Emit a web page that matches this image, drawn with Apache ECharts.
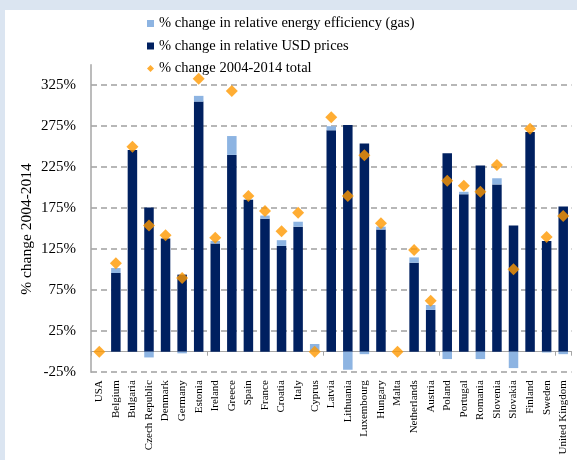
<!DOCTYPE html>
<html>
<head>
<meta charset="utf-8">
<script src="https://cdn.jsdelivr.net/npm/echarts@6/dist/echarts.min.js"></script>
<style>
html,body{margin:0;padding:0;background:#fff;}
#chart{width:577px;height:460px;}
</style>
</head>
<body>
<div id="chart"></div>
<script>
var categories = ['USA','Belgium','Bulgaria','Czech Republic','Denmark','Germany','Estonia','Ireland','Greece','Spain','France','Croatia','Italy','Cyprus','Latvia','Lithuania','Luxembourg','Hungary','Malta','Netherlands','Austria','Poland','Portugal','Romania','Slovenia','Slovakia','Finland','Sweden','United Kingdom'];
var usdPrices = [0, 96, 246, 176, 138, 94, 305, 132, 240, 185, 162, 129, 152.5, 0, 270, 276.5, 254, 149, 0, 108.5, 51, 242, 192, 227, 204, 154, 268, 135, 177];
var energyEff = [0, 6, 0, -7, 0, -2, 7, 3, 23, 1, 4, 7, 6, 9.4, 5, -22, -3, 3.5, 0, 6.5, 6, -9, 3, -9, 7.5, -20, 0, -1, -3];
var total = [0, 108, 250, 154, 142, 90, 333, 139, 318, 190, 171.5, 147, 169.5, 0, 286, 190, 239.5, 156.5, 0, 124, 62, 208.5, 202.5, 195, 227.7, 100.5, 272, 140, 165.5];
var yTicks = {min: -25, max: 350, interval: 50};

var FONT = 'Liberation Serif';
var chart = echarts.init(document.getElementById('chart'));
chart.setOption({
  animation: false,
  backgroundColor: '#fff',
  textStyle: {fontFamily: FONT, color: '#000'},
  graphic: [
    {type: 'rect', shape: {x: 0, y: 0, width: 577, height: 10}, style: {fill: '#dbe5f1'}, z: -1},
    {type: 'rect', shape: {x: 0, y: 0, width: 5, height: 460}, style: {fill: '#dbe5f1'}, z: -1},
    {type: 'text', x: 27, y: 229, rotation: Math.PI / 2,
     style: {text: '% change 2004-2014', fontFamily: FONT, fontSize: 15.5, fill: '#000', align: 'center', verticalAlign: 'middle'}}
  ],
  legend: {
    orient: 'vertical',
    left: 142,
    top: 11,
    itemGap: 7.5,
    itemWidth: 7,
    itemHeight: 7,
    textStyle: {fontFamily: FONT, fontSize: 14.5, color: '#000'},
    data: [
      {name: '% change in relative energy efficiency (gas)', icon: 'rect'},
      {name: '% change in relative USD prices', icon: 'rect'},
      {name: '% change 2004-2014 total', icon: 'diamond'}
    ]
  },
  grid: {left: 91, right: 5.5, top: 64.7, bottom: 87.8, containLabel: false},
  xAxis: [
    {
      type: 'category',
      data: categories,
      position: 'bottom',
      axisLine: {show: false, onZero: false},
      axisTick: {show: false},
      axisLabel: {rotate: 90, fontFamily: FONT, fontSize: 11, color: '#000', margin: 8, interval: 0}
    },
    {
      type: 'category',
      data: categories,
      position: 'top',
      axisLine: {show: true, onZero: true, lineStyle: {color: '#a6a6a6', width: 1}},
      axisTick: {show: true, inside: true, length: 4, lineStyle: {color: '#a6a6a6'}},
      axisLabel: {show: false}
    }
  ],
  yAxis: {
    type: 'value',
    min: yTicks.min,
    max: yTicks.max,
    interval: yTicks.interval,
    axisLine: {show: true, lineStyle: {color: '#a6a6a6', width: 1.5}},
    axisTick: {show: false},
    axisLabel: {
      fontFamily: FONT, fontSize: 15, color: '#000', margin: 15,
      showMaxLabel: false,
      formatter: function (v) { return v === 350 ? '' : v + '%'; }
    },
    splitLine: {show: true, showMaxLine: false, lineStyle: {color: '#a0a0a0', type: [6, 4], width: 1.5}}
  },
  series: [
    {
      name: '% change in relative USD prices',
      type: 'bar',
      stack: 'a',
      barWidth: 9.5,
      data: usdPrices,
      itemStyle: {color: '#002060'}
    },
    {
      name: '% change in relative energy efficiency (gas)',
      type: 'bar',
      stack: 'a',
      barWidth: 9.5,
      data: energyEff,
      itemStyle: {color: '#8db4e2'}
    },
    {
      name: '% change 2004-2014 total',
      type: 'scatter',
      symbol: 'diamond',
      symbolSize: 12,
      data: total,
      itemStyle: {color: '#ff9900'},
      z: 5
    }
  ]
});
</script>
</body>
</html>
